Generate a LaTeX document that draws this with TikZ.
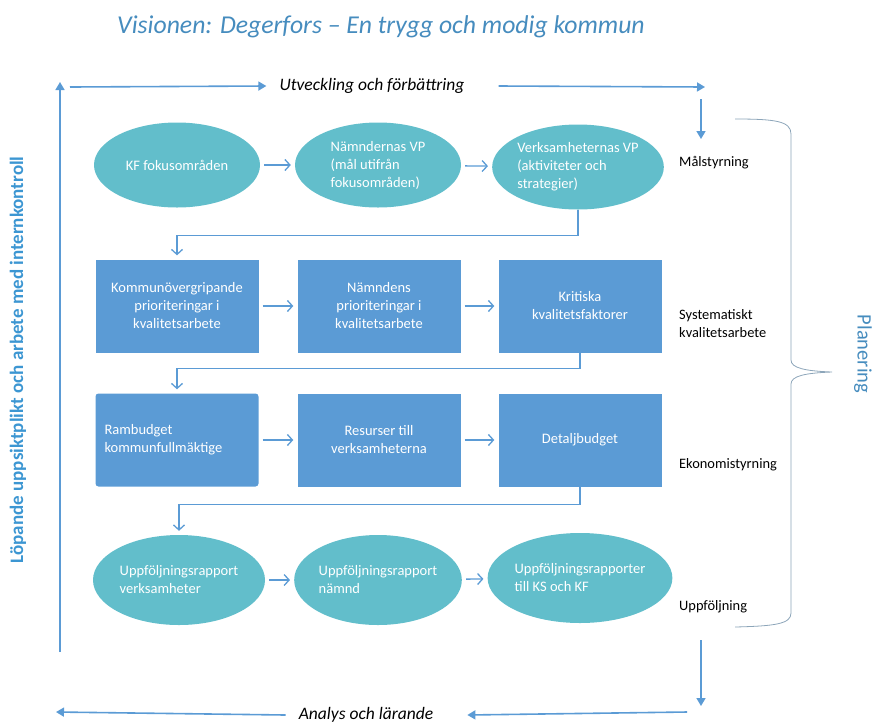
\documentclass[tikz,border=0pt]{standalone}
\usepackage{fontspec}
\setmainfont{Carlito}
\usetikzlibrary{shapes.geometric,arrows.meta,calc}

\definecolor{tealfill}{RGB}{98,190,203}
\definecolor{boxfill}{RGB}{91,155,213}
\definecolor{flowline}{RGB}{91,155,213}
\definecolor{titleblue}{RGB}{70,140,190}
\definecolor{sideblue}{RGB}{60,150,210}
\definecolor{bracegray}{RGB}{140,165,185}

\tikzset{
  oval/.style={ellipse, fill=tealfill, minimum width=166pt, minimum height=85pt,
    inner sep=0pt, text=white, font=\fontsize{14.5}{18}\selectfont},
  sqbox/.style={rectangle, fill=boxfill, minimum width=163pt, minimum height=93pt,
    inner sep=0pt, text=white, font=\fontsize{14.5}{18}\selectfont},
  stepflow/.style={draw=flowline, line width=1.3pt, -{Straight Barb[length=5pt,width=11pt]},
    shorten >=4pt, shorten <=4pt},
  rowlink/.style={draw=flowline, line width=1.3pt, -{Straight Barb[length=5pt,width=11pt]},
    shorten >=4pt},
  loopflow/.style={draw=flowline, line width=1.6pt, -{Triangle[length=8pt,width=9pt]}},
  sidelabel/.style={anchor=west, font=\fontsize{14.4}{18}\selectfont, align=left, inner sep=0pt},
  looplabel/.style={font=\fontsize{17.5}{20}\selectfont\itshape, inner sep=0pt},
}

\begin{document}
\begin{tikzpicture}[x=1pt,y=-1pt]
\useasboundingbox (0,0) rectangle (880,724);

% title
\node (title) at (381,27) {\fontsize{25.7}{30}\selectfont\itshape\color{titleblue}Visionen: Degerfors -- En trygg och modig kommun};

% row 1: goals
\node[oval] (e1) at (177,165) {KF fokusområden};
\node[oval, align=left] (e2) at (378,165) {Nämndernas VP\\(mål utifrån\\fokusområden)};
\node[oval, align=left, minimum width=170pt] (e3) at (578,167) {Verksamheternas VP\\(aktiviteter och\\strategier)};

% row 2: quality work
\node[sqbox, align=center] (b1) at (177,306) {Kommunövergripande\\prioriteringar i\\kvalitetsarbete};
\node[sqbox, align=center] (b2) at (379,306) {Nämndens\\prioriteringar i\\kvalitetsarbete};
\node[sqbox, align=center] (b3) at (580,306) {Kritiska\\kvalitetsfaktorer};

% row 3: budget
\node[sqbox, align=left, rounded corners=3pt, text width=145pt] (b4) at (177,440) {Rambudget\\kommunfullmäktige};
\node[sqbox, align=center] (b5) at (379,440) {Resurser till\\verksamheterna};
\node[sqbox, align=center] (b6) at (580,440) {Detaljbudget};

% row 4: follow-up
\node[oval, align=left, minimum width=172pt, minimum height=90pt] (e4) at (179,580) {Uppföljningsrapport\\verksamheter};
\node[oval, align=left, minimum height=90pt] (e5) at (378,580) {Uppföljningsrapport\\nämnd};
\node[oval, align=left, minimum width=172pt, minimum height=90pt] (e6) at (580,578) {Uppföljningsrapporter\\till KS och KF};

% arrows within rows
\draw[stepflow] (e1) -- (e2);
\draw[stepflow] (e2) -- (e3);
\draw[stepflow] (b1) -- (b2);
\draw[stepflow] (b2) -- (b3);
\draw[stepflow] (b4) -- (b5);
\draw[stepflow] (b5) -- (b6);
\draw[stepflow] (e4) -- (e5);
\draw[stepflow] (e5) -- (e6);

% links between rows
\draw[rowlink] (e3.south) -- ++(0,26) -| (b1.north);
\draw[rowlink] (b3.south) -- ++(0,16) -| (b4.north);
\draw[rowlink] (b6.south) -- ++(0,18) -| (e4.north);

% labels on the right
\node[sidelabel] (l1) at (679,163) {Målstyrning};
\node[sidelabel] (l2) at (679,324) {Systematiskt\\kvalitetsarbete};
\node[sidelabel] (l3) at (679,465) {Ekonomistyrning};
\node[sidelabel] (l4) at (679,607) {Uppföljning};

% brace
\draw[bracegray, line width=0.8pt] (735,119) .. controls (775,119) and (791,121) .. (791,134)
  -- (791,360) .. controls (791,368) and (805,371) .. (832,372)
  .. controls (805,373) and (791,376) .. (791,384)
  -- (791,613) .. controls (791,624) and (775,626) .. (735,627);
\node[rotate=-90, font=\fontsize{20.5}{24}\selectfont, text=titleblue] (plan) at (863,354) {Planering};

% outer loop
\coordinate (tl) at (70,87);
\coordinate (tr) at (705,87);
\coordinate (rtop) at (701,99);
\coordinate (rtopend) at (701,139);
\coordinate (rbot) at (701,640);
\coordinate (rbotend) at (701,706);
\coordinate (br) at (687,712);
\coordinate (bl) at (56,712);
\coordinate (lbot) at (60,652);
\coordinate (ltop) at (60,82);

\node[looplabel] (utv) at (372,86) {Utveckling och förbättring};
\node[looplabel] (ana) at (366,715) {Analys och lärande};

\draw[loopflow] (tl) -- ([xshift=-13pt]utv.west);
\draw[loopflow] ([xshift=34pt]utv.east) -- (tr);
\draw[loopflow] (rtop) -- (rtopend);
\draw[loopflow] (rbot) -- (rbotend);
\draw[loopflow] (br) -- ([xshift=34pt]ana.east);
\draw[loopflow] ([xshift=-13pt]ana.west) -- (bl);
\draw[loopflow] (lbot) -- (ltop);

\node[rotate=90, font=\fontsize{19}{22}\selectfont\bfseries, text=sideblue] (side) at (18,360) {Löpande uppsiktplikt och arbete med internkontroll};
\end{tikzpicture}
\end{document}
